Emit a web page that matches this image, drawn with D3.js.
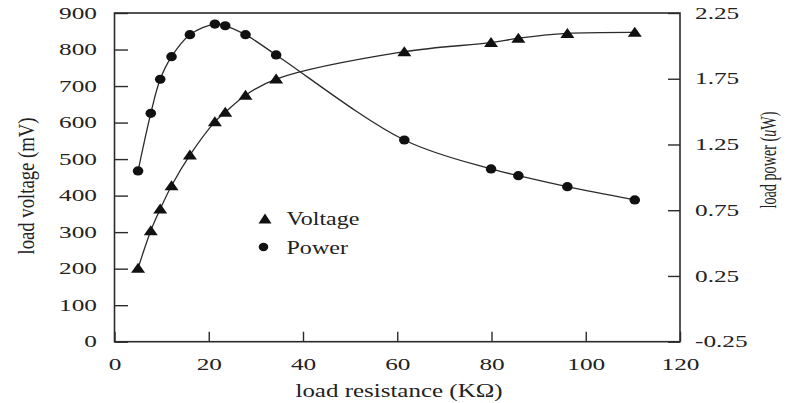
<!DOCTYPE html>
<html>
<head>
<meta charset="utf-8">
<script src="https://cdn.jsdelivr.net/npm/d3@7"></script>
<style>
  html, body { margin: 0; padding: 0; background: #fff; }
  svg { display: block; }
  text { font-family: "Liberation Serif", "Times New Roman", serif; fill: #222; }
</style>
</head>
<body>
<svg id="chart" width="792" height="403"></svg>
<script>
// ---- data ----
const resistance = [5.0, 7.7, 9.7, 12.1, 16.0, 21.3, 23.5, 27.8, 34.3, 61.5, 79.9, 85.7, 96.1, 110.4];
const voltage    = [201, 304, 363, 427, 511, 602, 628, 675, 719, 794, 819, 831, 844, 847];
const power      = [1.049, 1.487, 1.746, 1.918, 2.085, 2.166, 2.153, 2.085, 1.931, 1.284, 1.064, 1.013, 0.929, 0.828];

const xTicks      = [0, 20, 40, 60, 80, 100, 120];
const yLeftTicks  = [0, 100, 200, 300, 400, 500, 600, 700, 800, 900];
const yRightTicks = [-0.25, 0.25, 0.75, 1.25, 1.75, 2.25];

const xTitle = "load resistance (KΩ)";
const yLeftTitle = "load voltage (mV)";
const legendLabels = ["Voltage", "Power"];

// ---- layout ----
const svg = d3.select("#chart");
const L = 114.5, R = 680, T = 13, B = 341.7;
const ink = "#2b2b2b";

const x = d3.scaleLinear().domain([0, 120]).range([L, R]);
const yL = d3.scaleLinear().domain([0, 900]).range([B, T]);
const yR = d3.scaleLinear().domain([-0.25, 2.25]).range([B, T]);

function stretch(sel, sx) {
  sel.each(function () {
    const t = d3.select(this);
    const x0 = +t.attr("x") || 0;
    t.attr("x", 0).attr("transform", `translate(${x0},0) scale(${sx},1)`);
  });
}

// axes
const gx = svg.append("g").attr("transform", `translate(0,${B})`)
  .call(d3.axisBottom(x).tickValues(xTicks).tickSize(-10).tickPadding(16.5).tickFormat(d3.format("d")));
const gl = svg.append("g").attr("transform", `translate(${L},0)`)
  .call(d3.axisLeft(yL).tickValues(yLeftTicks).tickSize(-13.5).tickPadding(17.5).tickFormat(d3.format("d")));
const gr = svg.append("g").attr("transform", `translate(${R},0)`)
  .call(d3.axisRight(yR).tickValues(yRightTicks).tickSize(-12).tickPadding(15).tickFormat(d3.format(".2f")));

[gx, gl, gr].forEach(g => {
  g.select(".domain").remove();
  g.selectAll(".tick line").attr("stroke", ink).attr("stroke-width", 1.4);
  g.selectAll(".tick text").attr("fill", "#222")
    .style("font-family", '"Liberation Serif", serif').style("font-size", "16px");
  stretch(g.selectAll(".tick text"), 1.58);
});
gr.selectAll(".tick text").text(d => d < 0 ? "-" + d3.format(".2f")(-d) : d3.format(".2f")(d));

// frame
svg.append("rect").attr("x", L).attr("y", T).attr("width", R - L).attr("height", B - T)
  .attr("fill", "none").attr("stroke", ink).attr("stroke-width", 1.6);

// lines
const vData = resistance.map((r, i) => [r, voltage[i]]);
const pData = resistance.map((r, i) => [r, power[i]]);

svg.append("path").datum(vData)
  .attr("d", d3.line().x(d => x(d[0])).y(d => yL(d[1])).curve(d3.curveCatmullRom.alpha(0.5)))
  .attr("fill", "none").attr("stroke", ink).attr("stroke-width", 1.3);
svg.append("path").datum(pData)
  .attr("d", d3.line().x(d => x(d[0])).y(d => yR(d[1])).curve(d3.curveCatmullRom.alpha(0.5)))
  .attr("fill", "none").attr("stroke", ink).attr("stroke-width", 1.3);

// markers
const tri = "M0,-5.5L7,4.5L-7,4.5Z";
svg.append("g").selectAll("path").data(vData).join("path")
  .attr("d", tri).attr("transform", d => `translate(${x(d[0])},${yL(d[1])})`)
  .attr("fill", "#111");
svg.append("g").selectAll("ellipse").data(pData).join("ellipse")
  .attr("cx", d => x(d[0])).attr("cy", d => yR(d[1])).attr("rx", 5.3).attr("ry", 4.6)
  .attr("fill", "#111");

// legend
svg.append("path").attr("d", "M0,-5.5L6.5,4.5L-6.5,4.5Z").attr("transform", "translate(265,219)").attr("fill", "#111");
svg.append("ellipse").attr("cx", 263.5).attr("cy", 247).attr("rx", 4.8).attr("ry", 4.2).attr("fill", "#111");
const lg = svg.append("g");
lg.append("text").attr("x", 286.5).attr("y", 225).style("font-size", "18.5px").text(legendLabels[0]);
lg.append("text").attr("x", 286.5).attr("y", 254).style("font-size", "18.5px").text(legendLabels[1]);
stretch(lg.selectAll("text"), 1.3);

// x title
svg.append("text").attr("text-anchor", "middle")
  .attr("transform", `translate(399,396.5) scale(1.35,1)`)
  .style("font-size", "18.5px").text(xTitle);

// left title
svg.append("text").attr("text-anchor", "middle")
  .attr("transform", "translate(34,186) scale(1.4,1) rotate(-90)")
  .attr("textLength", 137).attr("lengthAdjust", "spacingAndGlyphs")
  .style("font-size", "16px").text(yLeftTitle);

// right title
const rt = svg.append("text").attr("text-anchor", "middle")
  .attr("transform", "translate(775.5,160) scale(1.5,1) rotate(-90)")
  .attr("textLength", 97).attr("lengthAdjust", "spacingAndGlyphs")
  .style("font-size", "16px");
rt.append("tspan").text("load power (");
rt.append("tspan").style("font-style", "italic").text("u");
rt.append("tspan").text("W)");
</script>
</body>
</html>
